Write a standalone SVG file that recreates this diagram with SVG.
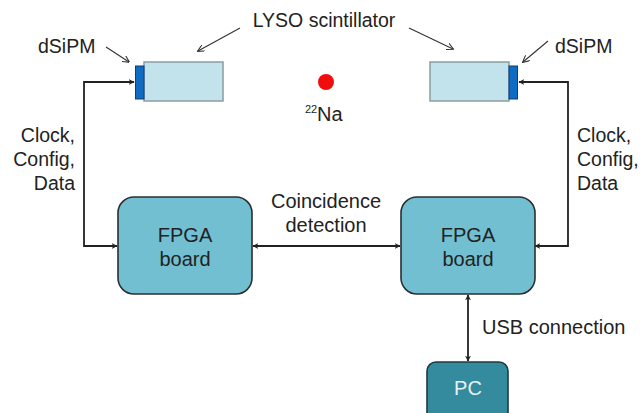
<svg xmlns="http://www.w3.org/2000/svg" width="641" height="413" viewBox="0 0 641 413">
<defs>
<style>
text{font-family:"Liberation Sans",Arial,sans-serif;font-size:20px;fill:#222}
.sm{font-size:19.5px}
.crys{fill:#c2e3ec;stroke:#8c9ca2;stroke-width:1.5}
.sipm{fill:#0f6cc2;stroke:#0a3f78;stroke-width:1}
.fpga{fill:#71bfd1;stroke:#2b2f31;stroke-width:1.6}
.pc{fill:#358b9e;stroke:#1f3a42;stroke-width:1.6}
.ln{fill:none;stroke:#222;stroke-width:1.8}
.thin{fill:none;stroke:#333;stroke-width:1.1}
</style>
<marker id="ah" viewBox="0 0 10 10" refX="9" refY="5" markerWidth="6" markerHeight="6" orient="auto-start-reverse" markerUnits="userSpaceOnUse">
<path d="M0,0 L10,5 L0,10 L3,5 Z" fill="#222"/>
</marker>
<marker id="ah2" viewBox="0 0 10 10" refX="9" refY="5" markerWidth="7" markerHeight="7" orient="auto" markerUnits="userSpaceOnUse">
<path d="M0,0 L10,5 L0,10" fill="none" stroke="#333" stroke-width="1.5"/>
</marker>
</defs>
<rect width="641" height="413" fill="#fff"/>
<g id="connectors">
<path class="ln" d="M117,246 H84 V82 H134" marker-start="url(#ah)" marker-end="url(#ah)"/>
<path class="ln" d="M535,246 H568 V82 H519" marker-start="url(#ah)" marker-end="url(#ah)"/>
<path class="ln" d="M253,246 H400" marker-start="url(#ah)" marker-end="url(#ah)"/>
<path class="ln" d="M468,295 V361" marker-start="url(#ah)" marker-end="url(#ah)"/>
<path class="thin" d="M240,28 L198,51" marker-end="url(#ah2)"/>
<path class="thin" d="M409,28 L453,49" marker-end="url(#ah2)"/>
<path class="thin" d="M106,47 L129,62" marker-end="url(#ah2)"/>
<path class="thin" d="M548,41 L523,62" marker-end="url(#ah2)"/>
</g>
<g id="crystal-left">
<rect class="crys" x="144" y="62" width="79" height="39"/>
<rect class="sipm" x="135.5" y="66" width="8.5" height="33"/>
</g>
<g id="crystal-right">
<rect class="crys" x="430" y="62" width="79" height="39"/>
<rect class="sipm" x="509" y="66" width="8.5" height="33"/>
</g>
<g id="source">
<circle cx="326" cy="82" r="8" fill="#f20d0d"/>
<text x="305" y="113" style="font-size:11px">22</text>
<text x="317" y="121">Na</text>
</g>
<g id="labels">
<text class="sm" x="324" y="27" text-anchor="middle">LYSO scintillator</text>
<text class="sm" x="38" y="53">dSiPM</text>
<text class="sm" x="555" y="53">dSiPM</text>
<text class="sm" x="75" y="142" text-anchor="end">Clock,</text>
<text class="sm" x="75" y="166" text-anchor="end">Config,</text>
<text class="sm" x="75" y="190" text-anchor="end">Data</text>
<text class="sm" x="577" y="142">Clock,</text>
<text class="sm" x="577" y="166">Config,</text>
<text class="sm" x="577" y="190">Data</text>
<text x="326" y="208" text-anchor="middle">Coincidence</text>
<text x="326" y="232" text-anchor="middle">detection</text>
<text x="482" y="334">USB connection</text>
</g>
<g id="fpga-left">
<rect class="fpga" x="118" y="197" width="134" height="97" rx="16"/>
<text x="185" y="242" text-anchor="middle">FPGA</text>
<text x="185" y="266" text-anchor="middle">board</text>
</g>
<g id="fpga-right">
<rect class="fpga" x="401" y="197" width="134" height="97" rx="16"/>
<text x="468" y="242" text-anchor="middle">FPGA</text>
<text x="468" y="266" text-anchor="middle">board</text>
</g>
<g id="pc">
<rect class="pc" x="427" y="362" width="81" height="60" rx="9"/>
<text x="468" y="395" text-anchor="middle" style="fill:#e8f2f4">PC</text>
</g>
</svg>
